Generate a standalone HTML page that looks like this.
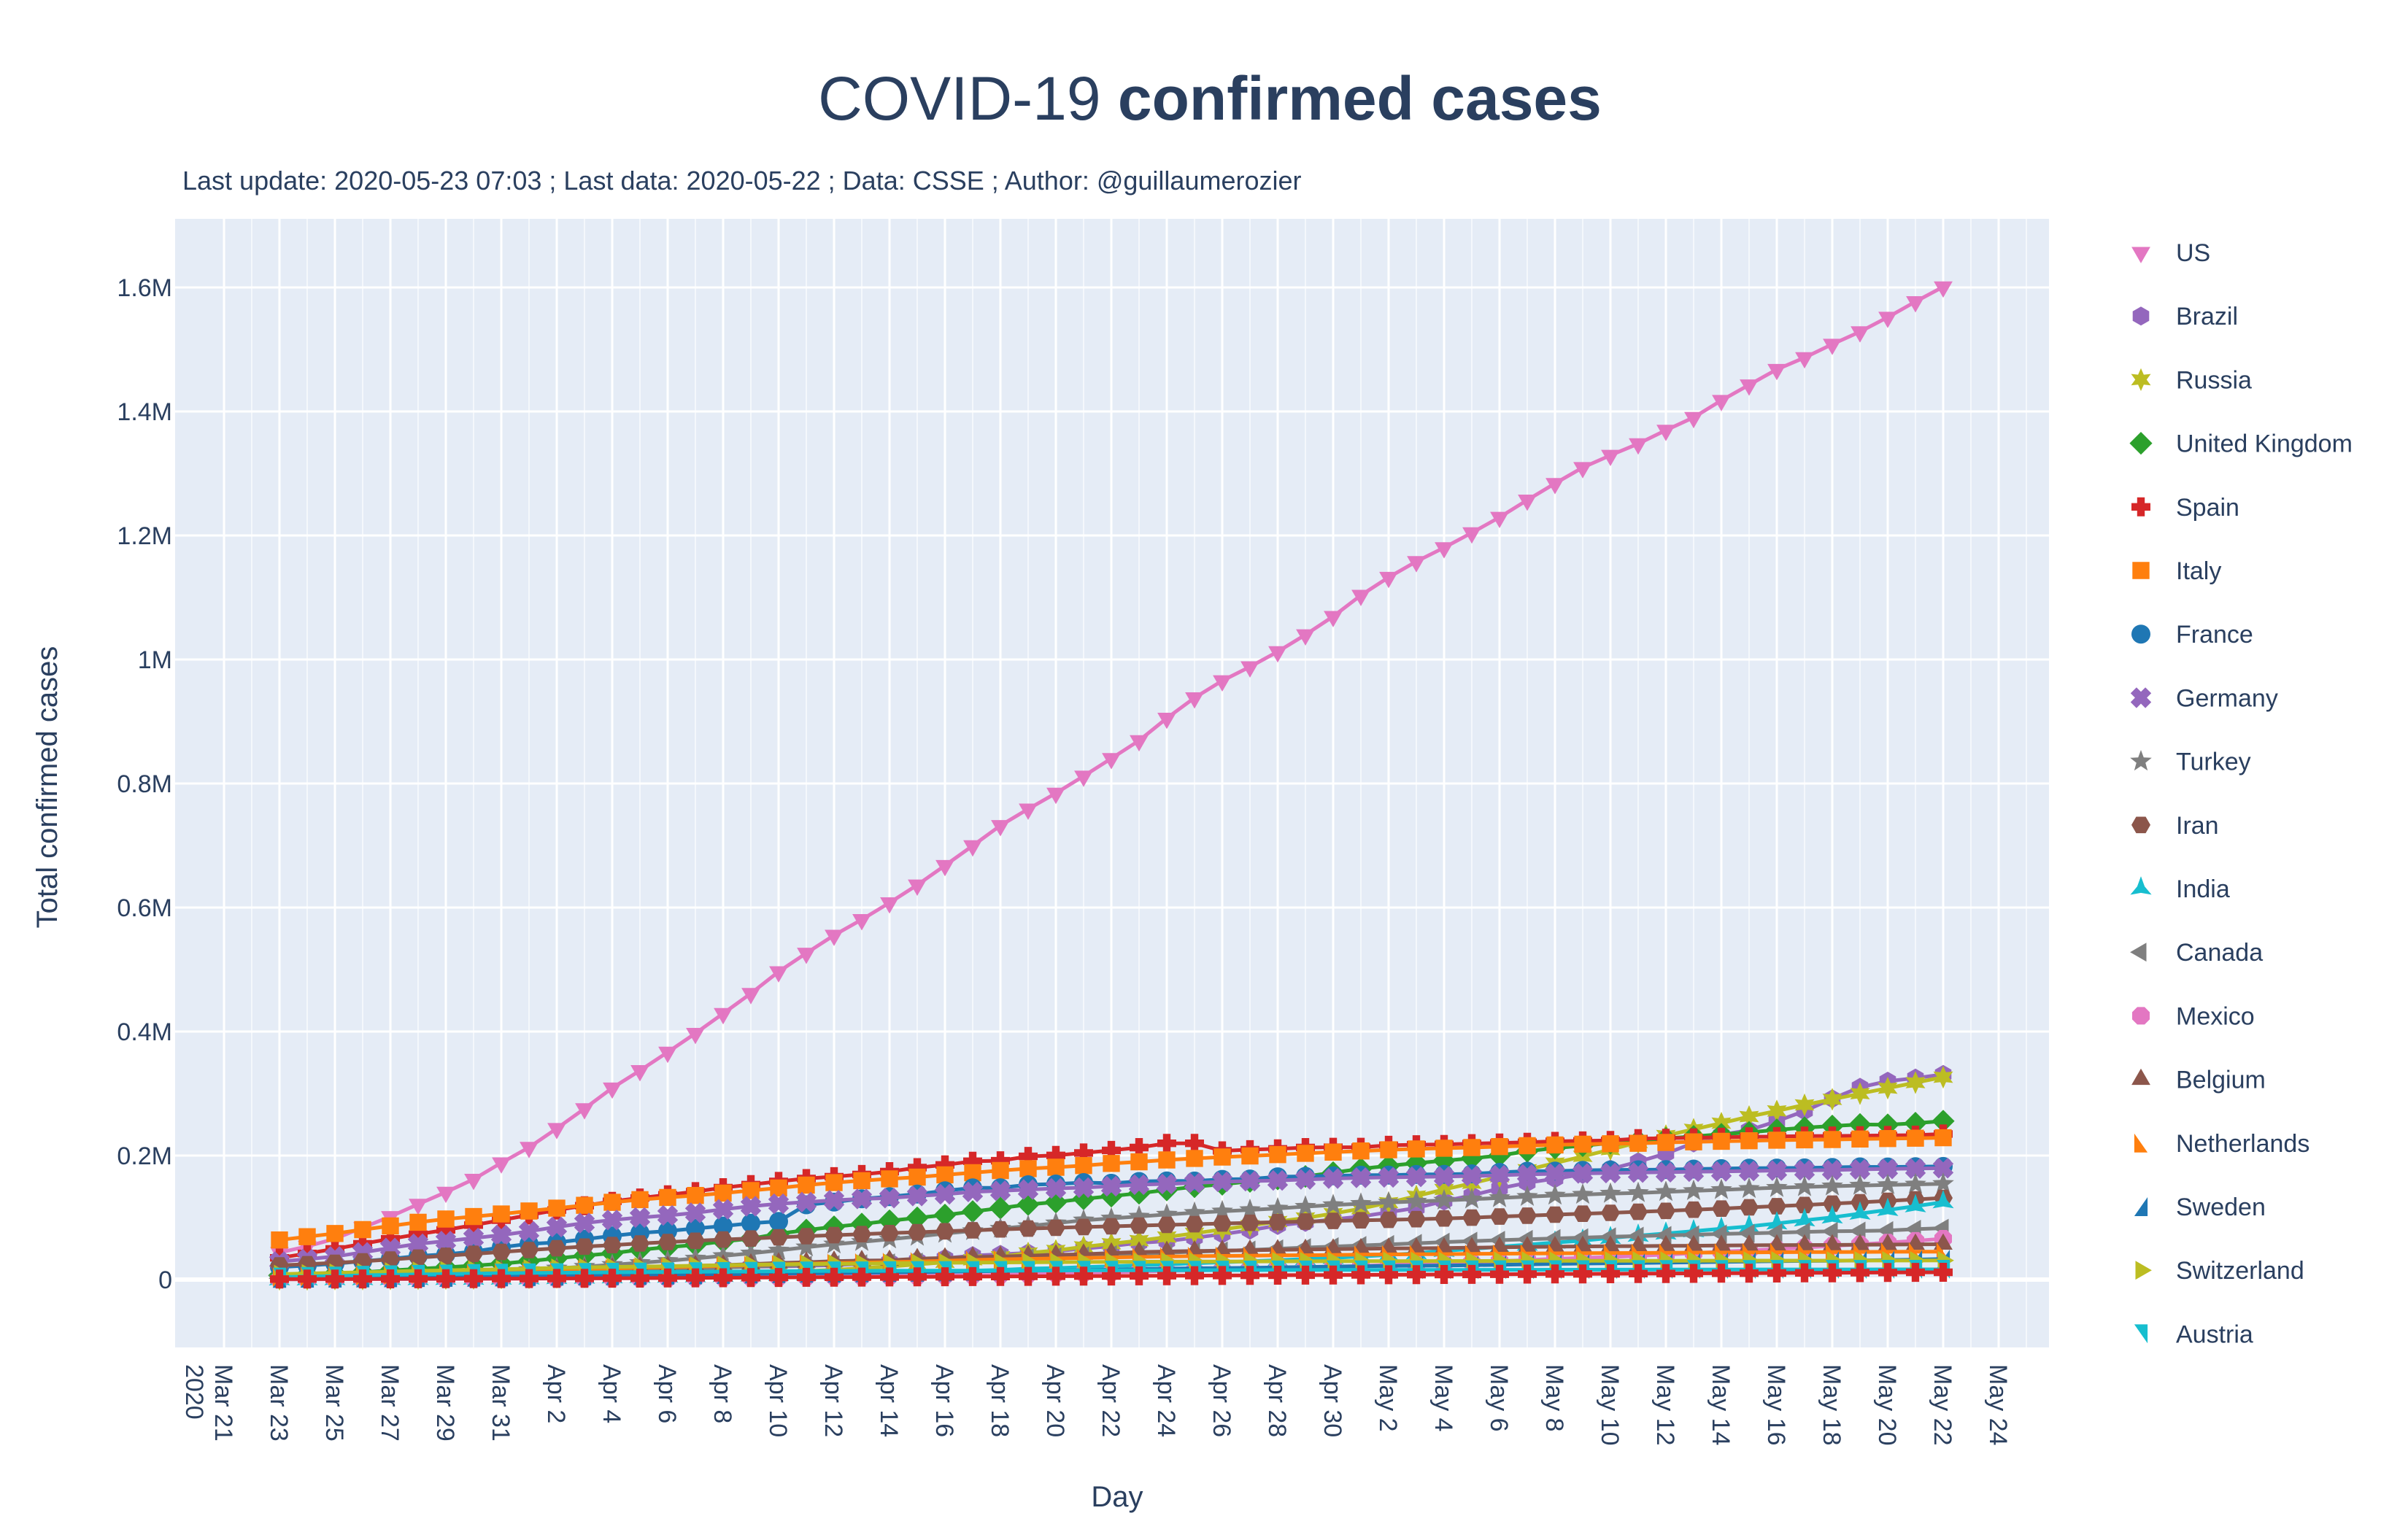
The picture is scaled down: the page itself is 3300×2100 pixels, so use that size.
<!DOCTYPE html>
<html><head><meta charset="utf-8">
<style>
html,body{margin:0;padding:0;background:#fff;}
svg{display:block;font-family:"Liberation Sans",Arial,sans-serif;}
</style></head>
<body>
<svg id="chart" width="3300" height="2100" viewBox="0 0 3300 2100" xmlns="http://www.w3.org/2000/svg">
<rect x="0" y="0" width="3300" height="2100" fill="#fff"/>
<text x="1658" y="164" text-anchor="middle" font-size="84" fill="#2a3f5f">COVID-19 <tspan font-weight="bold">confirmed cases</tspan></text>
<text x="250" y="260" font-size="36" fill="#2a3f5f">Last update: 2020-05-23 07:03 ; Last data: 2020-05-22 ; Data: CSSE ; Author: @guillaumerozier</text>
<rect x="240" y="300" width="2568" height="1547" fill="#e5ecf6"/>
<g id="grid"></g>
<g id="series"></g>
<g id="yticks"></g>
<g id="xticks"></g>
<g id="legend"></g>
<text transform="translate(78,1079) rotate(-90)" text-anchor="middle" font-size="40" fill="#2a3f5f">Total confirmed cases</text>
<text x="1531" y="2065" text-anchor="middle" font-size="40" fill="#2a3f5f">Day</text>
</svg>
<script>
const countries = ["US","Brazil","Russia","United Kingdom","Spain","Italy","France","Germany","Turkey","Iran","India","Canada","Mexico","Belgium","Netherlands","Sweden","Switzerland","Austria"];
const yTickValues = [0,200,400,600,800,1000,1200,1400,1600];
const yTickLabels = ["0","0.2M","0.4M","0.6M","0.8M","1M","1.2M","1.4M","1.6M"];
const xTickLabels = ["Mar 21","Mar 23","Mar 25","Mar 27","Mar 29","Mar 31","Apr 2","Apr 4","Apr 6","Apr 8","Apr 10","Apr 12","Apr 14","Apr 16","Apr 18","Apr 20","Apr 22","Apr 24","Apr 26","Apr 28","Apr 30","May 2","May 4","May 6","May 8","May 10","May 12","May 14","May 16","May 18","May 20","May 22","May 24"];
const firstDay = 2; // Mar 23 (days after Mar 21)
const usData = [43.7,53.7,65.8,83.8,101.7,121.5,140.9,161.8,188.2,213.2,243.6,275.6,308.9,337.1,366.7,397.1,429.1,461.4,496.5,526.4,555.3,580.6,607.7,636.4,667.8,699.7,732.2,758.8,784.3,811.9,840.4,869.2,905.3,938.2,965.8,988.2,1012.6,1039.9,1069.4,1103.5,1132.5,1158.0,1180.4,1204.4,1229.3,1257.0,1283.9,1309.5,1329.3,1347.9,1369.6,1390.4,1417.8,1442.8,1467.8,1486.8,1508.3,1528.6,1551.9,1577.1,1600.9];
const brazilData = [1.9,2.2,2.6,2.9,3.4,4.3,4.6,5.7,6.8,8.0,9.2,10.9,12.0,12.2,14.0,16.2,19.6,20.7,21.2,22.2,23.4,25.3,28.3,30.7,34.2,38.7,40.7,43.1,45.8,50.0,54.0,59.3,61.9,67.4,73.2,79.7,87.2,92.2,97.1,101.8,108.6,115.5,126.6,135.8,146.9,156.1,162.7,169.6,178.2,190.1,203.2,220.3,233.5,241.1,255.4,271.9,291.6,310.1,320.0,325.0,330.9];
const russiaData = [0.4,0.5,0.7,0.8,1.0,1.3,1.5,1.8,2.3,2.8,3.5,4.1,4.7,5.4,6.3,7.5,8.7,10.1,11.9,13.6,15.8,18.3,21.1,24.5,27.9,32.0,36.8,42.9,47.1,52.8,57.9,62.8,68.6,74.6,80.9,87.1,93.6,99.4,106.5,114.4,124.1,134.7,145.3,155.4,165.9,177.2,187.9,198.7,209.7,221.3,232.2,242.3,252.2,262.8,272.0,281.8,290.7,299.9,308.7,317.6,326.4];
const ukData = [6.7,8.2,9.6,11.8,14.7,17.3,19.8,22.5,25.5,29.9,34.2,38.7,42.5,48.1,52.3,55.9,61.5,66.0,74.0,79.9,85.2,89.6,94.8,99.5,104.1,109.8,115.3,121.2,125.0,130.2,134.6,139.2,144.6,149.6,153.6,158.3,162.4,166.4,172.5,178.7,183.5,187.8,191.8,195.5,200.0,207.0,212.0,216.0,220.0,224.0,227.7,230.9,234.4,237.4,241.5,244.9,247.7,250.1,249.6,252.2,255.5];
const spainData = [35.1,42.1,49.5,57.8,65.7,73.2,80.1,87.9,95.9,104.1,112.1,119.2,126.2,131.6,136.7,141.9,148.2,153.2,158.3,163.0,166.0,169.5,174.1,180.6,184.9,190.8,191.7,198.7,200.2,204.2,208.4,213.0,219.8,219.8,207.6,209.5,210.8,212.9,213.4,213.4,216.6,217.5,218.0,219.3,220.3,221.4,222.9,223.6,224.4,227.4,228.0,228.7,229.5,230.2,230.7,231.4,231.6,232.0,232.5,233.0,234.8];
const italyData = [63.9,69.2,74.4,80.6,86.5,92.5,97.7,101.7,105.8,110.6,115.2,119.8,124.6,128.9,132.5,135.6,139.4,143.6,147.6,152.3,156.4,159.5,162.5,165.2,168.9,172.4,175.9,178.9,181.2,183.9,187.3,189.9,192.9,195.4,197.7,199.4,201.5,203.6,205.5,207.4,209.3,210.7,211.9,213.0,214.5,215.9,217.2,218.3,219.1,219.8,221.2,222.1,223.1,223.9,224.8,225.4,225.9,226.7,227.4,228.0,228.7];
const franceData = [20.1,22.6,25.6,29.6,33.4,38.1,40.7,45.2,52.1,57.7,59.9,65.2,70.5,75.3,78.2,82.5,86.3,90.8,93.8,120.6,124.9,130.3,133.6,137.9,143.3,147.9,148.1,152.9,154.1,156.5,155.4,158.2,159.0,158.9,161.6,162.2,165.8,166.5,167.3,168.4,168.5,169.5,169.6,170.6,173.0,174.8,174.9,176.2,176.7,177.1,177.4,178.2,178.9,179.6,179.9,180.1,180.9,181.8,181.6,182.0,182.5];
const germanyData = [29.1,32.9,37.3,43.9,50.9,57.7,62.1,66.9,71.8,77.9,84.8,91.2,96.1,100.1,103.4,107.7,113.3,118.2,122.2,124.9,127.9,130.1,131.4,134.8,137.7,141.4,143.3,145.2,147.1,148.3,150.6,153.1,154.2,156.0,157.8,158.8,159.9,161.5,163.0,164.1,164.8,165.7,166.1,167.0,168.2,169.6,170.6,171.3,171.9,172.6,173.2,174.0,174.5,175.2,175.9,176.4,176.6,177.8,178.5,179.0,179.7];
const turkeyData = [1.5,1.9,2.4,3.6,5.7,7.4,9.2,10.8,13.5,15.7,18.1,20.9,23.9,27.1,30.2,34.1,38.2,42.3,47.0,52.2,56.9,61.0,65.1,69.4,74.2,78.5,82.3,86.3,90.9,95.6,98.7,101.8,104.9,107.8,110.1,112.3,114.7,117.6,120.2,122.4,124.4,126.0,127.7,129.5,131.7,133.7,135.6,137.1,138.7,139.8,141.5,143.1,144.7,146.5,148.1,149.4,150.6,151.6,152.6,153.5,154.5];
const iranData = [23.0,24.8,27.0,29.4,32.3,35.4,38.3,41.5,44.6,47.6,50.5,53.2,55.7,58.2,60.5,62.6,64.6,66.2,68.2,70.0,71.7,73.3,74.9,76.4,77.9,79.5,80.9,82.2,83.5,84.8,85.9,87.0,88.2,89.3,90.5,91.5,92.6,93.7,94.6,95.6,96.4,97.4,98.6,99.9,101.7,103.1,104.7,106.2,107.6,109.3,110.8,112.7,114.5,116.6,118.4,120.2,122.5,124.6,126.9,129.3,131.7];
const indiaData = [0.5,0.5,0.7,0.7,0.9,1.0,1.2,1.4,1.6,1.9,2.5,3.1,3.6,4.3,4.8,5.3,5.9,6.7,7.6,8.4,9.2,10.5,11.5,12.4,13.4,14.4,15.7,17.6,18.5,20.1,21.4,23.1,24.5,26.3,27.9,29.5,31.3,33.1,34.9,37.3,39.7,42.5,46.4,49.4,52.9,56.4,59.7,62.8,67.2,70.8,74.3,78.1,82.0,85.8,90.6,95.7,100.3,106.5,112.4,118.4,124.8];
const canadaData = [2.1,2.8,3.4,4.0,4.7,5.6,6.3,7.4,8.5,9.6,11.3,12.4,13.9,15.5,16.6,17.9,19.4,20.8,22.1,23.3,24.4,25.7,27.0,28.4,29.8,31.9,33.4,35.1,36.8,38.4,40.2,41.6,43.3,44.9,46.4,47.8,49.6,51.6,53.2,55.1,56.7,58.5,60.5,62.0,63.5,65.0,66.4,67.7,69.1,70.1,71.3,72.3,73.6,74.6,75.7,76.9,77.9,78.3,79.1,81.3,82.9];
const mexicoData = [0.4,0.4,0.5,0.6,0.7,0.8,1.0,1.1,1.2,1.4,1.5,1.7,1.9,2.1,2.4,2.8,3.2,3.4,3.8,4.2,4.7,5.0,5.4,5.8,6.3,6.9,7.5,8.3,9.5,10.5,11.6,12.9,13.8,14.7,15.5,16.8,17.8,19.2,20.7,22.1,23.5,24.9,26.0,27.6,29.6,31.5,33.5,35.0,36.3,38.3,40.2,42.6,45.0,47.1,49.2,51.6,54.3,56.6,59.6,62.5,65.9];
const belgiumData = [3.4,4.3,4.9,6.2,7.3,9.1,10.8,11.9,12.8,13.9,15.3,16.8,18.4,19.7,20.8,22.2,23.4,24.9,26.7,28.0,29.6,30.6,31.1,33.6,34.8,36.1,37.2,38.5,39.9,40.9,42.8,44.3,45.3,46.1,46.7,47.3,47.9,48.5,49.0,49.5,50.3,50.5,50.8,51.4,52.0,52.6,53.1,53.4,53.8,54.0,54.3,54.6,54.9,55.3,55.6,55.8,55.9,56.2,56.5,56.8,57.0];
const netherlandsData = [4.8,5.6,6.4,7.4,8.6,9.8,10.9,11.8,12.7,13.7,15.0,16.6,17.9,19.0,20.0,21.0,22.2,23.2,24.6,25.6,26.6,27.4,28.2,29.2,30.4,31.6,32.7,33.4,34.1,35.0,35.7,36.5,37.2,37.8,38.2,38.6,39.0,39.3,39.8,40.2,40.6,40.8,41.1,41.4,41.8,42.1,42.3,42.6,42.8,43.0,43.2,43.5,43.7,43.9,44.1,44.3,44.4,44.6,44.8,44.9,45.1];
const swedenData = [2.0,2.3,2.5,2.8,3.1,3.4,3.7,4.0,4.4,4.9,5.6,6.1,6.4,6.8,7.2,7.7,8.4,9.1,9.7,10.2,10.5,10.9,11.4,11.9,12.5,13.2,13.8,14.4,14.8,15.3,16.0,16.8,17.6,18.2,18.6,18.9,19.6,20.3,21.1,21.5,22.1,22.3,22.7,23.2,23.9,24.6,25.3,25.9,26.3,26.7,27.3,27.9,28.6,29.2,29.7,30.1,30.4,30.8,31.5,32.2,33.2];
const switzerlandData = [8.8,9.9,11.0,11.8,12.9,14.1,14.8,15.9,16.6,17.8,18.8,19.6,20.5,21.1,21.7,22.3,23.3,24.1,24.6,25.1,25.4,25.7,26.3,26.7,27.1,27.4,27.7,27.9,28.1,28.3,28.5,28.7,28.9,29.1,29.2,29.3,29.4,29.5,29.6,29.7,29.8,29.9,29.9,30.0,30.1,30.2,30.2,30.3,30.3,30.4,30.4,30.5,30.5,30.5,30.6,30.6,30.6,30.7,30.7,30.7,30.8];
const austriaData = [4.0,4.9,5.6,6.9,7.7,8.3,8.8,9.6,10.2,10.7,11.1,11.5,11.8,12.1,12.3,12.6,12.9,13.2,13.5,13.8,14.0,14.0,14.2,14.3,14.4,14.5,14.6,14.7,14.8,14.9,14.9,15.0,15.1,15.1,15.2,15.3,15.4,15.4,15.5,15.5,15.6,15.6,15.7,15.7,15.8,15.8,15.9,15.9,16.0,16.0,16.1,16.1,16.2,16.2,16.3,16.3,16.4,16.4,16.5,16.5,16.5];
const otherData = [0.8,0.9,1.0,1.1,1.2,1.3,1.4,1.5,1.6,1.7,1.9,2.0,2.2,2.4,2.6,2.8,3.0,3.2,3.4,3.6,3.8,4.0,4.2,4.4,4.6,4.8,5.0,5.2,5.4,5.6,5.8,6.0,6.2,6.4,6.6,6.8,7.0,7.2,7.4,7.6,7.8,8.0,8.2,8.4,8.6,8.8,9.0,9.2,9.4,9.6,9.8,10.0,10.2,10.4,10.6,10.8,11.0,11.2,11.4,11.6,11.8];

const seriesData = [usData,brazilData,russiaData,ukData,spainData,italyData,franceData,germanyData,turkeyData,iranData,indiaData,canadaData,mexicoData,belgiumData,netherlandsData,swedenData,switzerlandData,austriaData];
const colors = ["#e377c2","#9467bd","#bcbd22","#2ca02c","#d62728","#ff7f0e","#1f77b4","#9467bd","#7f7f7f","#8c564b","#17becf","#7f7f7f","#e377c2","#8c564b","#ff7f0e","#1f77b4","#bcbd22","#17becf"];
const symbols = ["tri-down","hexagon","star6","diamond","cross","square","circle","x","star","hexagon2","star-tri","tri-left","octagon","tri-up","tri-ne","tri-sw","tri-right","tri-se"];

const NS="http://www.w3.org/2000/svg";
const X0=307, DX=38, Y0=1754, DY=170/200;
function xScale(d){return X0+DX*d;}
function yScale(v){return Y0-DY*v;}
function mk(tag,attrs,parent){const e=document.createElementNS(NS,tag);for(const k in attrs)e.setAttribute(k,attrs[k]);parent.appendChild(e);return e;}
function poly(pts){return "M"+pts.map(p=>p[0].toFixed(1)+","+p[1].toFixed(1)).join("L")+"Z";}
function reg(n,r,rot){const p=[];for(let i=0;i<n;i++){const a=rot+i*2*Math.PI/n;p.push([r*Math.cos(a),r*Math.sin(a)]);}return p;}
function starP(n,r1,r2,rot){const p=[];for(let i=0;i<2*n;i++){const a=rot+i*Math.PI/n;const r=i%2?r2:r1;p.push([r*Math.cos(a),r*Math.sin(a)]);}return p;}
function symPath(s,r){
  const t=r*0.4;
  switch(s){
    case "circle": return `M${r},0A${r},${r} 0 1,1 ${-r},0A${r},${r} 0 1,1 ${r},0Z`;
    case "square": return poly([[-r*0.9,-r*0.9],[r*0.9,-r*0.9],[r*0.9,r*0.9],[-r*0.9,r*0.9]]);
    case "diamond": return poly([[0,-r*1.2],[r*1.2,0],[0,r*1.2],[-r*1.2,0]]);
    case "cross": return poly([[-t,-r],[t,-r],[t,-t],[r,-t],[r,t],[t,t],[t,r],[-t,r],[-t,t],[-r,t],[-r,-t],[-t,-t]]);
    case "x": {const p=[[-t,-r],[t,-r],[t,-t],[r,-t],[r,t],[t,t],[t,r],[-t,r],[-t,t],[-r,t],[-r,-t],[-t,-t]];const c=Math.SQRT1_2;return poly(p.map(q=>[(q[0]-q[1])*c*1.1,(q[0]+q[1])*c*1.1]));}
    case "tri-up": return poly(reg(3,r*1.15,-Math.PI/2));
    case "tri-down": return poly(reg(3,r*1.15,Math.PI/2));
    case "tri-left": return poly(reg(3,r*1.15,Math.PI));
    case "tri-right": return poly(reg(3,r*1.15,0));
    case "tri-ne": return poly([[-r*0.7,-r],[r*0.7,r],[-r*0.7,r]]);
    case "tri-sw": return poly([[r*0.7,-r],[r*0.7,r],[-r*0.7,r]]);
    case "tri-se": return poly([[-r*0.7,-r],[r*0.7,-r],[r*0.7,r]]);
    case "hexagon": return poly(reg(6,r,-Math.PI/2));
    case "hexagon2": return poly(reg(6,r,0));
    case "octagon": return poly(reg(8,r,Math.PI/8));
    case "star": return poly(starP(5,r*1.2,r*0.5,-Math.PI/2));
    case "star6": return poly(starP(6,r*1.2,r*0.6,-Math.PI/2));
    case "star-tri": return poly(starP(3,r*1.3,r*0.45,-Math.PI/2));
  }
}

const grid=document.getElementById("grid");
for(let d=0; d<=65; d++){
  const x=xScale(d); if(x<240||x>2808) continue;
  const gl=mk("line",{x1:x,x2:x,y1:300,y2:1847,stroke:"#fff","stroke-width":d%2===0?3:1.2},grid);
  
  
}
const yt=document.getElementById("yticks");
yTickValues.forEach((v,i)=>{
  const y=yScale(v);
  const gl=mk("line",{x1:240,x2:2808,y1:y,y2:y,stroke:"#fff","stroke-width":v===0?6:3},grid);
  
  
  const t=mk("text",{x:236,y:y+12,"text-anchor":"end","font-size":34,fill:"#2a3f5f"},yt);
  t.textContent=yTickLabels[i];
  
  
});
const xt=document.getElementById("xticks");
xTickLabels.forEach((lab,i)=>{
  const x=xScale(i*2);
  const t=mk("text",{transform:`translate(${x-12},1870) rotate(90)`,"font-size":34,fill:"#2a3f5f"},xt);
  t.textContent=lab;
  
  
});
const yr=mk("text",{transform:`translate(${xScale(0)-52},1870) rotate(90)`,"font-size":34,fill:"#2a3f5f"},xt);
yr.textContent="2020";



const sg=document.getElementById("series");
function drawSeries(data,color,sym,name){
  const g=mk("g",{},sg);
  
  
  const pts=data.map((v,i)=>[xScale(firstDay+i),yScale(v)]);
  const ln=mk("path",{d:"M"+pts.map(p=>p[0].toFixed(1)+","+p[1].toFixed(1)).join("L"),fill:"none",stroke:color,"stroke-width":5,"stroke-linejoin":"round"},g);
  
  
  const sp=symPath(sym,13);
  pts.forEach(p=>{
    const m=mk("path",{d:sp,transform:`translate(${p[0].toFixed(1)},${p[1].toFixed(1)})`,fill:color},g);
    
    
  });
}
seriesData.forEach((d,i)=>drawSeries(d,colors[i],symbols[i],countries[i]));
drawSeries(otherData,"#d62728","cross","other");

const lg=document.getElementById("legend");
countries.forEach((c,i)=>{
  const y=346+i*87.2;
  const g=mk("g",{},lg);
  
  
  const m=mk("path",{d:symPath(symbols[i],13),transform:`translate(2934,${y})`,fill:colors[i]},g);
  
  
  const t=mk("text",{x:2982,y:y+12,"font-size":34,fill:"#2a3f5f"},g);
  t.textContent=c;
  
  
});
</script>
</body></html>
